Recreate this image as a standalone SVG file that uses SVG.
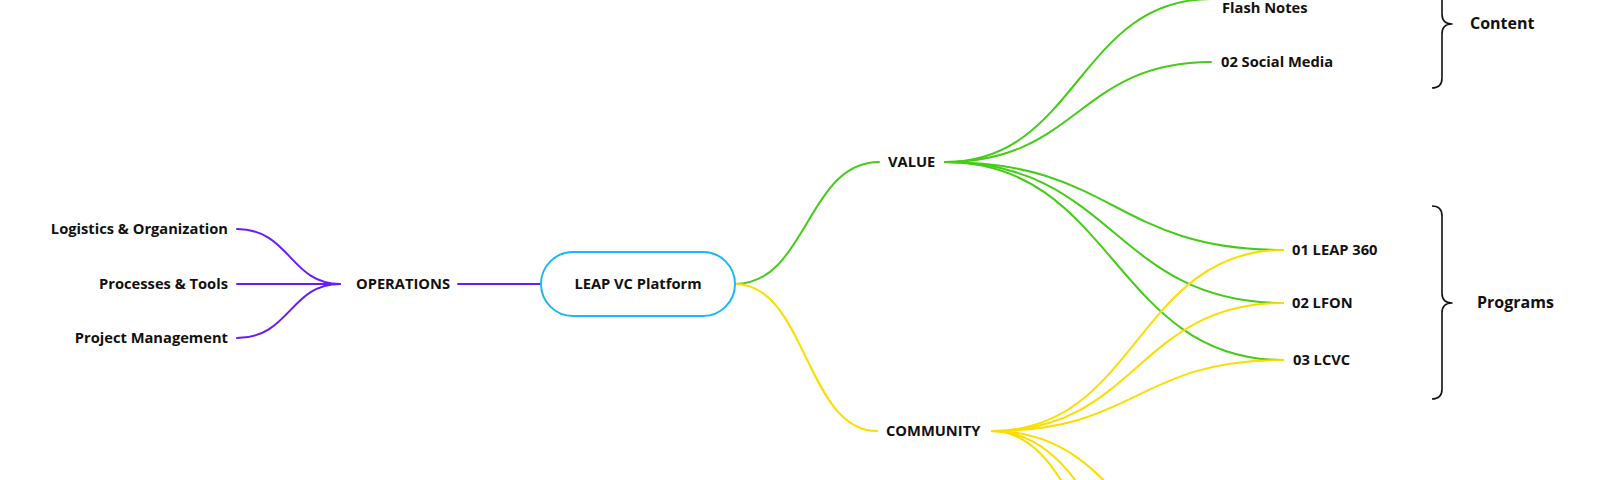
<svg xmlns="http://www.w3.org/2000/svg" width="1600" height="480" viewBox="0 0 1600 480">
<style>
text{font-family:"Open Sans","Noto Sans","Liberation Sans",sans-serif;font-weight:700;font-size:14.7px;fill:#111}
.big{font-size:16px}
.c{fill:none;stroke-width:2;stroke-linecap:round}
.op{stroke:#6a1cf6}
.g{stroke:#45cc18}
.y{stroke:#fbdd00}
.br{fill:none;stroke:#111;stroke-width:1.6;stroke-linejoin:round}
</style>
<rect width="1600" height="480" fill="#fff"/>
<g id="connectors">
<path class="c op" d="M237 229 C290 229 290 284 340 284"/>
<path class="c op" d="M237 284 C290 284 290 284 340 284"/>
<path class="c op" d="M237 338 C290 338 290 284 340 284"/>
<path class="c op" d="M458 284 L541 284"/>
<path class="c g" d="M735 284 C807 284 807 162 879 162"/>
<path class="c y" d="M735 284 C806 284 806 431 877 431"/>
<path class="c g" d="M945 162 C1078 162 1078 -1 1211 -1"/>
<path class="c g" d="M945 162 C1078 162 1078 62 1211 62"/>
<path class="c g" d="M945 162 C1114 162 1114 250 1283 250"/>
<path class="c g" d="M945 162 C1114 162 1114 303 1283 303"/>
<path class="c g" d="M945 162 C1114 162 1114 360 1283 360"/>
<path class="c y" d="M992 431 C1137 431 1137 250 1283 250"/>
<path class="c y" d="M992 431 C1137 431 1137 303 1283 303"/>
<path class="c y" d="M992 431 C1137 431 1137 360 1283 360"/>
<path class="c y" d="M992 431 C1137 431 1137 605 1283 605"/>
<path class="c y" d="M992 431 C1137 431 1137 770 1283 770"/>
<path class="c y" d="M992 431 C1137 431 1137 950 1283 950"/>
</g>
<g id="logistics"><text x="228" y="234" text-anchor="end">Logistics &amp; Organization</text></g>
<g id="processes"><text x="228" y="289" text-anchor="end">Processes &amp; Tools</text></g>
<g id="project"><text x="228" y="343" text-anchor="end">Project Management</text></g>
<g id="operations"><text x="403" y="289" text-anchor="middle">OPERATIONS</text></g>
<g id="platform">
<rect x="541" y="252" width="194" height="64" rx="32" fill="#fff" stroke="#19b9f1" stroke-width="2"/>
<text x="638" y="289" text-anchor="middle">LEAP VC Platform</text>
</g>
<g id="value"><text x="888" y="167">VALUE</text></g>
<g id="community"><text x="886" y="436">COMMUNITY</text></g>
<g id="flash"><text x="1222" y="13">Flash Notes</text></g>
<g id="social"><text x="1221" y="67">02 Social Media</text></g>
<g id="leap360"><text x="1292" y="255">01 LEAP 360</text></g>
<g id="lfon"><text x="1292" y="308">02 LFON</text></g>
<g id="lcvc"><text x="1293" y="365">03 LCVC</text></g>
<g id="content">
<path class="br" d="M1432 -40 Q1442 -40 1442 -30 L1442 14 Q1442 24 1452 24 Q1442 24 1442 34 L1442 78 Q1442 88 1432 88"/>
<text class="big" x="1470" y="29">Content</text>
</g>
<g id="programs">
<path class="br" d="M1432 206 Q1442 206 1442 216 L1442 293 Q1442 303 1452 303 Q1442 303 1442 313 L1442 389 Q1442 399 1432 399"/>
<text class="big" x="1477" y="308">Programs</text>
</g>
</svg>
